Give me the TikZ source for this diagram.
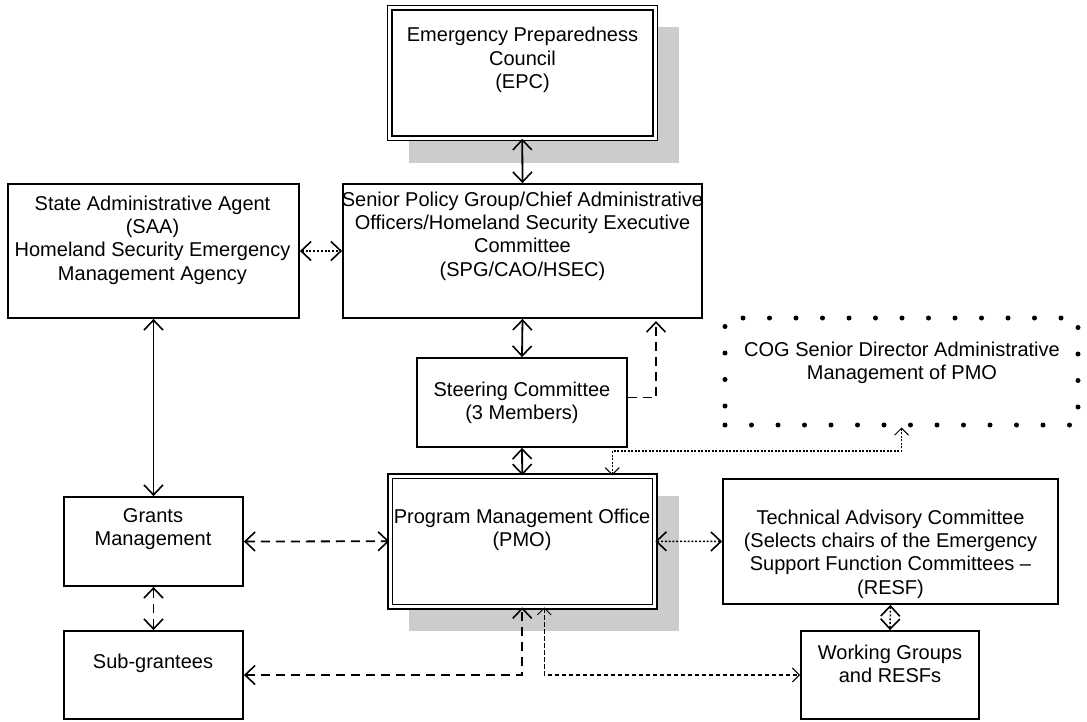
\documentclass[tikz,border=0pt]{standalone}
\usepackage{fontspec}
\setmainfont{Liberation Sans}
\usetikzlibrary{arrows.meta}
\definecolor{shadowgray}{HTML}{CCCCCC}
\begin{document}
\begin{tikzpicture}[x=1pt, y=-1pt,
            box/.style={draw, line width=1.8pt, fill=white, inner sep=0pt},
            dblbox/.style={draw, line width=1.5pt, double, double distance=3pt, fill=white, inner sep=0pt},
            cogbox/.style={draw, line width=5pt, line cap=round, dash pattern=on 0pt off 26.5pt, inner sep=0pt},
            lbl/.style={align=center, inner sep=0pt, font=\fontsize{20}{23.3}\selectfont},
            bigtip/.tip={Straight Barb[length=10pt, width=19pt, line width=1.6pt]},
            smalltip/.tip={Straight Barb[length=7pt, width=14pt, line width=1pt]},
            solidarr/.style={line width=1.8pt, {bigtip}-{bigtip}},
            dasharr/.style={line width=1.8pt, dash pattern=on 9pt off 6pt, {bigtip}-{bigtip}},
            dotarr/.style={line width=1.5pt, dash pattern=on 2pt off 1.8pt, {bigtip}-{bigtip}},
            finedot/.style={line width=1.1pt, dash pattern=on 2pt off 1.5pt, {smalltip}-{smalltip}},
            thindash/.style={line width=1.1pt, dash pattern=on 4.5pt off 2.5pt, {smalltip}-{smalltip}}]
            \useasboundingbox (0,0) rectangle (1087,721);
            \fill [shadowgray] (409,27) rectangle (679,163);
            \fill [shadowgray] (409,496) rectangle (679,631);
            \node [dblbox, minimum width=265.5pt, minimum height=130.5pt] (epc) at (522.25,72.75) {};
            \node [box, minimum width=359pt, minimum height=134pt] (spg) at (522.5,251) {};
            \node [box, minimum width=291pt, minimum height=134pt] (saa) at (153.5,251) {};
            \node [box, minimum width=210pt, minimum height=89pt] (steer) at (522,402.5) {};
            \node [cogbox, minimum width=353pt, minimum height=107pt] (cog) at (901.5,371.5) {};
            \node [box, minimum width=179pt, minimum height=89pt] (grants) at (153.5,541.5) {};
            \node [box, minimum width=179pt, minimum height=88pt] (sub) at (153.5,675) {};
            \node [dblbox, minimum width=264.5pt, minimum height=130.5pt] (pmo) at (522.25,541.25) {};
            \node [box, minimum width=335pt, minimum height=125pt] (tac) at (890.5,541.5) {};
            \node [box, minimum width=178pt, minimum height=88pt] (wg) at (890,675) {};
            \node [lbl] (epc-txt) at (522.5,60) {Emergency Preparedness\\Council\\(EPC)};
            \node [lbl] (spg-txt) at (522.5,236) {Senior Policy Group/Chief Administrative\\Officers/Homeland Security Executive\\Committee\\(SPG/CAO/HSEC)};
            \node [lbl] (saa-txt) at (152.5,240) {State Administrative Agent\\(SAA)\\Homeland Security Emergency\\Management Agency};
            \node [lbl] (steer-txt) at (522,403) {Steering Committee\\(3 Members)};
            \node [lbl] (cog-txt) at (902,362.5) {COG Senior Director Administrative\\Management of PMO};
            \node [lbl] (grants-txt) at (153,529) {Grants\\Management};
            \node [lbl] (sub-txt) at (153,663) {Sub-grantees};
            \node [lbl] (pmo-txt) at (522,529.5) {Program Management Office\\(PMO)};
            \node [lbl] (tac-txt) at (890.5,554) {Technical Advisory Committee\\(Selects chairs of the Emergency\\Support Function Committees --\\(RESF)};
            \node [lbl] (wg-txt) at (890,663.5) {Working Groups\\and RESFs};
            \coordinate (spgport) at (656,321);
            \coordinate (cogbend) at (901.5,451);
            \path [draw, solidarr] (epc.south) -- (spg.north);
            \path [draw, dotarr] (saa.east) -- (spg.west);
            \path [draw, solidarr] (saa.south) -- (grants.north);
            \path [draw, dasharr] (grants.south) -- (sub.north);
            \path [draw, solidarr] (spg.south) -- (steer.north);
            \path [draw, dasharr, -{bigtip}] ([yshift=5pt]steer.east) -| (spgport);
            \path [draw, solidarr] (steer.south) -- (pmo.north);
            \path [draw, finedot] ([xshift=90pt]pmo.north) |- (cogbend) -- (cog.south);
            \path [draw, dasharr] (grants.east) -- (pmo.west);
            \path [draw, dotarr] (pmo.east) -- (tac.west);
            \path [draw, dotarr] (tac.south) -- (wg.north);
            \path [draw, dasharr] (sub.east) -| (pmo.south);
            \path [draw, thindash] ([xshift=22pt]pmo.south) |- (wg.west);
        \end{tikzpicture}
\end{document}
